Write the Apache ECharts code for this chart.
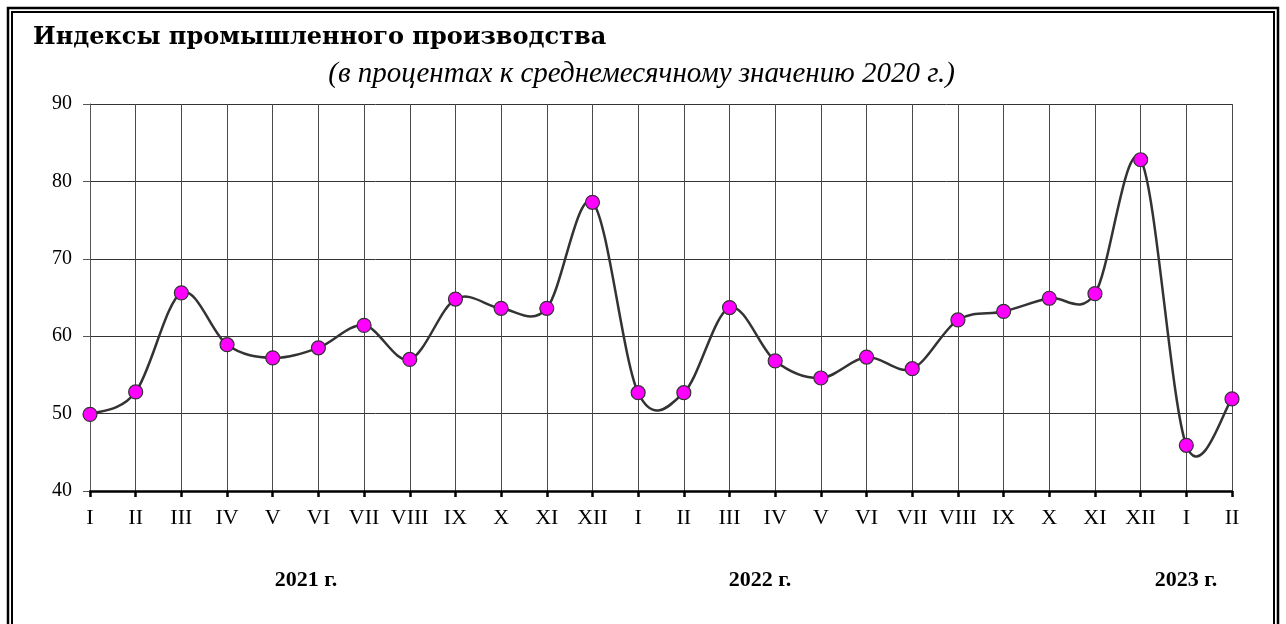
<!DOCTYPE html>
<html>
<head>
<meta charset="utf-8">
<script src="https://cdn.jsdelivr.net/npm/echarts@6/dist/echarts.min.js"></script>
<style>
  html, body { margin: 0; padding: 0; background: #fff; }
  #chart { width: 1286px; height: 624px; }
</style>
</head>
<body>
<div id="chart"></div>
<script>
// months, 2021-01 .. 2023-02
const months = [
  "I", "II", "III", "IV", "V", "VI", "VII", "VIII", "IX", "X", "XI", "XII",
  "I", "II", "III", "IV", "V", "VI", "VII", "VIII", "IX", "X", "XI", "XII",
  "I", "II"
];
const values = [
  49.9, 52.8, 65.6, 58.9, 57.2, 58.5, 61.4, 57.0, 64.8, 63.6, 63.6, 77.3,
  52.7, 52.7, 63.7, 56.8, 54.6, 57.3, 55.8, 62.1, 63.2, 64.9, 65.5, 82.8,
  45.9, 51.9
];
const years = ["2021 г.", "2022 г.", "2023 г."];
const yearX = [306, 760, 1186];

const chart = echarts.init(document.getElementById("chart"));

const serif = "'Liberation Serif', 'Times New Roman', serif";

// smooth curve like in excel: catmull-rom segment from point i to i+1
function renderCurve(params, api) {
  const i = params.dataIndex;
  const n = values.length;
  if (i >= n - 1) return null;
  const pt = function (k) {
    k = Math.max(0, Math.min(n - 1, k));
    return api.coord([k, values[k]]);
  };
  const p0 = pt(i - 1), p1 = pt(i), p2 = pt(i + 1), p3 = pt(i + 2);
  const t = 1 / 6;
  return {
    type: "bezierCurve",
    shape: {
      x1: p1[0], y1: p1[1],
      x2: p2[0], y2: p2[1],
      cpx1: p1[0] + (p2[0] - p0[0]) * t,
      cpy1: p1[1] + (p2[1] - p0[1]) * t,
      cpx2: p2[0] - (p3[0] - p1[0]) * t,
      cpy2: p2[1] - (p3[1] - p1[1]) * t
    },
    style: { stroke: "#333", lineWidth: 2.5, fill: null }
  };
}

const option = {
  backgroundColor: "#fff",
  animation: false,
  title: [
    {
      text: "Индексы промышленного производства",
      left: 28,
      top: 21,
      textStyle: {
        fontFamily: "'DejaVu Serif', serif",
        fontWeight: "bold",
        fontSize: 24,
        color: "#000"
      }
    },
    {
      text: "(в процентах к среднемесячному значению 2020 г.)",
      right: 326,
      top: 55,
      textStyle: {
        fontFamily: serif,
        fontStyle: "italic",
        fontWeight: "normal",
        fontSize: 29,
        color: "#000"
      }
    }
  ],
  grid: { left: 90, right: 54, top: 104, bottom: 133 },
  xAxis: {
    type: "category",
    data: months,
    boundaryGap: false,
    axisLine: { lineStyle: { color: "#000", width: 2.5 } },
    axisTick: { show: true, inside: false, length: 6, lineStyle: { color: "#000", width: 2.5 } },
    axisLabel: { interval: 0, margin: 16, fontFamily: serif, fontSize: 22, color: "#000" },
    splitLine: { show: true, lineStyle: { color: "#4a4a4a", width: 1 } }
  },
  yAxis: {
    type: "value",
    min: 40,
    max: 90,
    interval: 10,
    axisLine: { show: true, lineStyle: { color: "#555", width: 1 } },
    axisTick: { show: true, length: 7, lineStyle: { color: "#555" } },
    axisLabel: { margin: 18, fontFamily: serif, fontSize: 20, color: "#000" },
    splitLine: { show: true, lineStyle: { color: "#333", width: 1 } }
  },
  series: [
    {
      type: "custom",
      renderItem: renderCurve,
      data: values.map(function (v, i) { return [i, v]; }),
      encode: { x: 0, y: 1 },
      clip: true,
      silent: true,
      z: 4
    },
    {
      type: "scatter",
      data: values,
      symbol: "circle",
      symbolSize: 14,
      itemStyle: { color: "#ff00ff", borderColor: "#333", borderWidth: 1.2, opacity: 1 },
      z: 5
    }
  ],
  graphic: [
    {
      type: "rect",
      shape: { x: 8, y: 8, width: 1270, height: 700 },
      style: { fill: null, stroke: "#000", lineWidth: 2.5 },
      silent: true
    },
    {
      type: "rect",
      shape: { x: 12, y: 12, width: 1262, height: 700 },
      style: { fill: null, stroke: "#000", lineWidth: 2 },
      silent: true
    }
  ].concat(years.map(function (y, i) {
    return {
      type: "text",
      x: yearX[i],
      y: 580,
      style: {
        text: y,
        font: "bold 22px " + serif,
        fill: "#000",
        textAlign: "center",
        textVerticalAlign: "middle"
      }
    };
  }))
};

chart.setOption(option);
</script>
</body>
</html>
